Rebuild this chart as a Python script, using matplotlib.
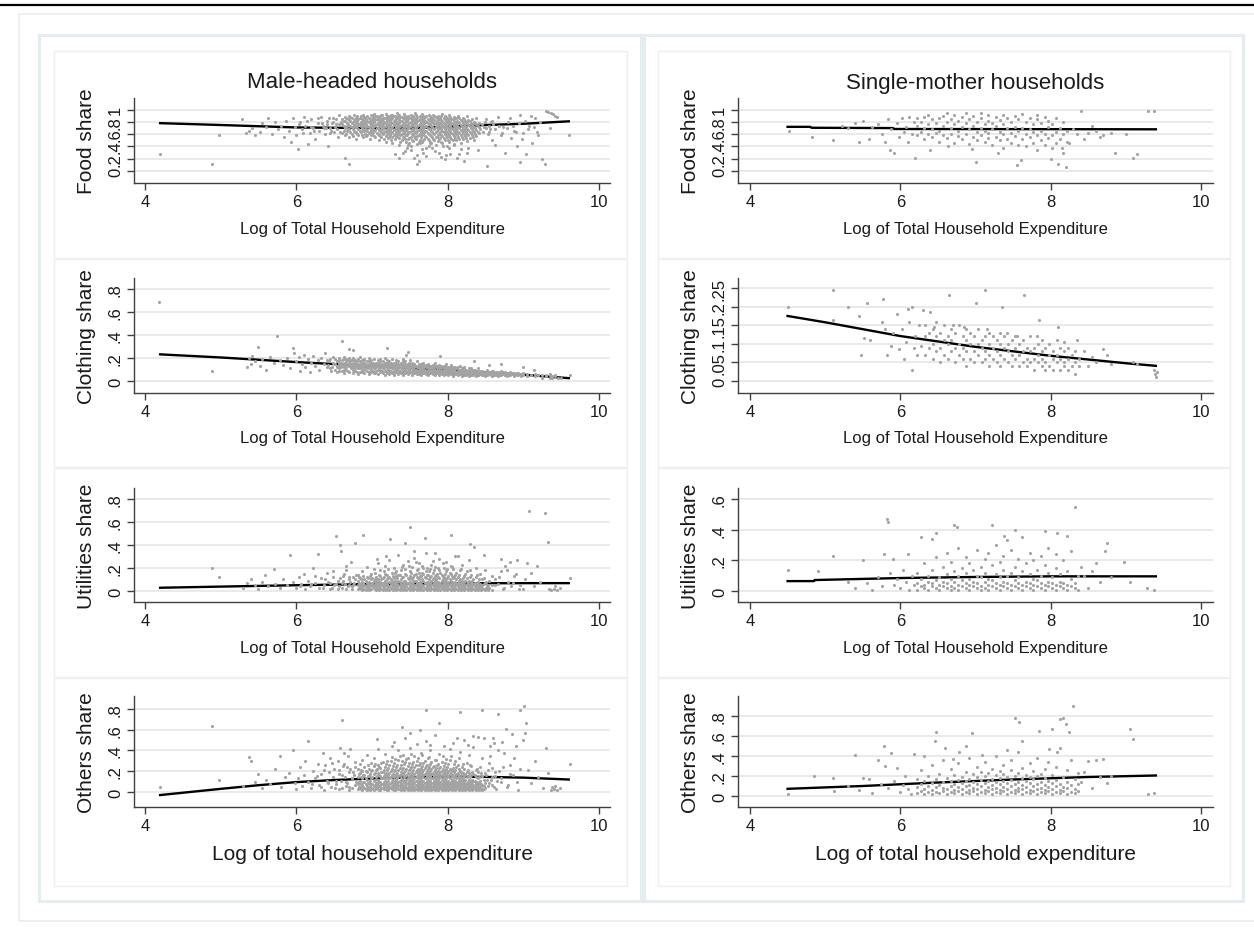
import matplotlib
matplotlib.use("Agg")
import matplotlib.pyplot as plt
from matplotlib.patches import Rectangle

plt.rcParams["font.family"] = ["Liberation Sans", "DejaVu Sans"]

W, H = 1254, 928

# ---------------------------------------------------------------- data
titles = ["Male-headed households", "Single-mother households"]
ylabels = ["Food share", "Clothing share", "Utilities share", "Others share"]
xlabels = ["Log of Total Household Expenditure"] * 3 + ["Log of total household expenditure"]
xticks = [4, 6, 8, 10]

# male-headed households, scattered points: (log expenditure, budget share)
food_m = [
    (4.20, 0.28), (4.88, 0.12), (4.98, 0.58), (5.28, 0.84), (5.33, 0.62), (5.38, 0.66), (5.42, 0.70),
    (5.46, 0.58), (5.52, 0.64), (5.55, 0.78), (5.60, 0.72), (5.63, 0.86), (5.68, 0.60), (5.72, 0.80),
    (5.76, 0.68), (5.80, 0.74), (5.84, 0.56), (5.86, 0.82), (5.90, 0.66), (5.93, 0.48), (5.95, 0.86),
    (5.98, 0.72), (6.00, 0.58), (6.02, 0.36), (6.05, 0.80), (6.07, 0.68), (6.10, 0.88), (6.12, 0.74),
    (6.15, 0.44), (6.18, 0.62), (6.20, 0.84), (6.22, 0.70), (6.25, 0.52), (6.28, 0.78), (6.30, 0.66),
    (6.33, 0.88), (6.35, 0.74), (6.38, 0.60), (6.40, 0.82), (6.42, 0.40), (6.45, 0.70), (6.48, 0.86),
    (6.50, 0.64), (6.52, 0.76), (6.55, 0.56), (6.64, 0.22), (6.70, 0.12), (7.41, 0.30), (7.48, 0.42),
    (7.59, 0.26), (7.66, 0.36), (7.76, 0.46), (7.83, 0.32), (7.94, 0.40), (8.03, 0.28), (8.18, 0.36),
    (8.40, 0.34), (8.50, 0.84), (8.52, 0.08), (8.55, 0.64), (8.58, 0.50), (8.60, 0.76), (8.63, 0.42),
    (8.66, 0.88), (8.70, 0.58), (8.73, 0.72), (8.76, 0.30), (8.80, 0.80), (8.84, 0.54), (8.88, 0.66),
    (8.92, 0.40), (8.96, 0.92), (9.00, 0.62), (9.04, 0.28), (9.08, 0.74), (9.12, 0.46), (9.16, 0.86),
    (9.20, 0.58), (9.24, 0.20), (9.30, 0.98), (9.33, 0.97), (9.36, 0.95), (9.39, 0.93), (9.42, 0.90),
    (9.45, 0.88), (9.60, 0.58), (9.28, 0.12), (7.60, 0.12), (8.95, 0.14), (9.35, 0.70), (7.36, 0.22),
    (7.52, 0.34), (7.72, 0.24), (7.88, 0.30), (8.02, 0.38), (8.12, 0.22), (7.46, 0.38), (7.64, 0.46),
    (7.98, 0.26), (8.26, 0.30), (7.31, 0.27), (7.43, 0.33), (7.55, 0.21), (7.67, 0.29), (7.79, 0.37),
    (7.91, 0.23), (8.15, 0.27), (8.27, 0.38), (7.49, 0.45), (7.75, 0.41), (8.09, 0.42), (7.62, 0.17),
    (7.97, 0.19), (8.21, 0.16), (8.48, 0.72), (8.53, 0.60), (8.57, 0.80), (8.62, 0.68), (8.68, 0.74),
    (8.72, 0.62), (8.78, 0.70), (8.82, 0.86), (8.86, 0.74), (8.90, 0.64), (8.94, 0.78), (8.98, 0.52),
    (9.02, 0.82), (9.06, 0.68), (9.10, 0.90), (9.14, 0.72), (9.18, 0.64), (9.22, 0.80), (6.03, 0.76),
    (6.09, 0.62), (6.14, 0.82), (6.19, 0.72), (6.24, 0.66), (6.29, 0.86), (6.34, 0.78), (6.39, 0.70),
    (6.44, 0.62), (6.49, 0.80), (6.54, 0.68), (6.57, 0.92), (6.36, 0.70), (6.41, 0.76), (6.46, 0.66),
    (6.51, 0.72), (6.53, 0.84), (6.56, 0.76), (6.58, 0.64), (6.59, 0.80), (6.47, 0.78), (6.43, 0.86),
    (8.43, 0.68), (8.45, 0.76), (8.47, 0.64), (8.49, 0.80), (8.51, 0.70), (8.54, 0.74), (8.56, 0.68),
    (8.59, 0.82),
]
# dense middle of each cloud: x position -> the y values stacked there
food_m_core = {
    6.61: [0.62, 0.77, 0.85], 6.64: [0.58, 0.70, 0.81, 0.88], 6.67: [0.65, 0.74, 0.79],
    6.70: [0.55, 0.69, 0.83, 0.90], 6.73: [0.61, 0.72, 0.78, 0.86], 6.76: [0.66, 0.75, 0.82, 0.91],
    6.79: [0.52, 0.63, 0.71, 0.79, 0.87], 6.82: [0.59, 0.68, 0.76, 0.84], 6.85: [0.64, 0.73, 0.80, 0.89],
    6.88: [0.56, 0.67, 0.75, 0.83, 0.92], 6.91: [0.61, 0.71, 0.78, 0.86], 6.94: [0.58, 0.66, 0.74, 0.81, 0.89],
    6.97: [0.53, 0.63, 0.72, 0.79, 0.85], 7.00: [0.60, 0.69, 0.77, 0.83, 0.90],
    7.03: [0.57, 0.65, 0.73, 0.80, 0.87, 0.93], 7.06: [0.62, 0.70, 0.76, 0.84, 0.89],
    7.09: [0.51, 0.59, 0.67, 0.75, 0.82, 0.88], 7.12: [0.55, 0.64, 0.71, 0.79, 0.85, 0.91],
    7.15: [0.60, 0.68, 0.74, 0.81, 0.87], 7.18: [0.48, 0.57, 0.66, 0.73, 0.80, 0.86, 0.93],
    7.21: [0.54, 0.62, 0.70, 0.77, 0.84, 0.90], 7.24: [0.58, 0.67, 0.75, 0.82, 0.88],
    7.27: [0.45, 0.56, 0.64, 0.72, 0.79, 0.86, 0.92], 7.30: [0.52, 0.61, 0.69, 0.76, 0.83, 0.89],
    7.33: [0.57, 0.66, 0.73, 0.80, 0.87, 0.94], 7.36: [0.43, 0.54, 0.63, 0.71, 0.78, 0.85, 0.91],
    7.39: [0.50, 0.60, 0.68, 0.75, 0.82, 0.88], 7.42: [0.55, 0.64, 0.72, 0.79, 0.86, 0.93],
    7.45: [0.47, 0.58, 0.67, 0.74, 0.81, 0.87], 7.48: [0.52, 0.62, 0.70, 0.77, 0.84, 0.90],
    7.51: [0.40, 0.56, 0.65, 0.73, 0.80, 0.86, 0.92], 7.54: [0.49, 0.60, 0.68, 0.76, 0.83, 0.89],
    7.57: [0.54, 0.63, 0.71, 0.78, 0.85, 0.94], 7.60: [0.44, 0.57, 0.66, 0.74, 0.81, 0.88],
    7.63: [0.51, 0.61, 0.69, 0.77, 0.84, 0.90], 7.66: [0.47, 0.58, 0.67, 0.75, 0.82, 0.87, 0.93],
    7.69: [0.53, 0.63, 0.71, 0.79, 0.86], 7.72: [0.38, 0.56, 0.65, 0.73, 0.80, 0.89],
    7.75: [0.50, 0.60, 0.69, 0.76, 0.83, 0.91], 7.78: [0.45, 0.57, 0.66, 0.74, 0.81, 0.87],
    7.81: [0.52, 0.62, 0.70, 0.78, 0.85, 0.92], 7.84: [0.42, 0.55, 0.64, 0.72, 0.79, 0.88],
    7.87: [0.49, 0.59, 0.68, 0.75, 0.83, 0.90], 7.90: [0.54, 0.63, 0.71, 0.78, 0.86],
    7.93: [0.46, 0.57, 0.66, 0.74, 0.81, 0.93], 7.96: [0.51, 0.61, 0.69, 0.77, 0.84, 0.89],
    7.99: [0.40, 0.55, 0.64, 0.72, 0.80, 0.87], 8.02: [0.48, 0.59, 0.67, 0.75, 0.82, 0.91],
    8.05: [0.53, 0.62, 0.70, 0.78, 0.85], 8.08: [0.44, 0.57, 0.66, 0.73, 0.81, 0.88],
    8.11: [0.50, 0.60, 0.69, 0.77, 0.86], 8.14: [0.55, 0.64, 0.72, 0.80, 0.90],
    8.17: [0.46, 0.58, 0.67, 0.75, 0.83], 8.20: [0.52, 0.62, 0.70, 0.79, 0.87],
    8.23: [0.57, 0.66, 0.74, 0.82], 8.26: [0.49, 0.60, 0.69, 0.78, 0.89], 8.29: [0.54, 0.64, 0.73, 0.81],
    8.32: [0.59, 0.68, 0.77, 0.85], 8.35: [0.50, 0.63, 0.72, 0.80], 8.38: [0.57, 0.67, 0.76, 0.86],
    8.41: [0.62, 0.71, 0.79],
    6.625: [0.66, 0.74, 0.82], 6.655: [0.61, 0.72, 0.86], 6.685: [0.68, 0.77, 0.84],
    6.715: [0.63, 0.74, 0.81, 0.88], 6.745: [0.57, 0.69, 0.80], 6.775: [0.64, 0.72, 0.85],
    6.805: [0.60, 0.74, 0.82, 0.90], 6.835: [0.66, 0.77, 0.87], 6.865: [0.59, 0.70, 0.78, 0.85],
    6.895: [0.65, 0.73, 0.81, 0.88], 6.925: [0.57, 0.68, 0.76, 0.84], 6.955: [0.62, 0.71, 0.80, 0.87],
    6.985: [0.58, 0.67, 0.75, 0.82, 0.91], 7.015: [0.63, 0.72, 0.79, 0.86],
    7.045: [0.55, 0.67, 0.75, 0.83, 0.90], 7.075: [0.61, 0.70, 0.78, 0.85],
    7.105: [0.57, 0.66, 0.74, 0.81, 0.89], 7.135: [0.62, 0.69, 0.77, 0.84, 0.92],
    7.165: [0.53, 0.64, 0.72, 0.79, 0.86], 7.195: [0.60, 0.68, 0.76, 0.83, 0.90],
    7.225: [0.56, 0.65, 0.73, 0.81, 0.87], 7.255: [0.51, 0.62, 0.70, 0.78, 0.85, 0.91],
    7.285: [0.59, 0.67, 0.75, 0.82, 0.89], 7.315: [0.55, 0.64, 0.72, 0.80, 0.86],
    7.345: [0.60, 0.69, 0.77, 0.84, 0.90], 7.375: [0.48, 0.59, 0.67, 0.74, 0.81, 0.88],
    7.405: [0.56, 0.65, 0.73, 0.80, 0.86], 7.435: [0.52, 0.61, 0.69, 0.77, 0.84, 0.90],
    7.465: [0.58, 0.66, 0.74, 0.82, 0.88], 7.495: [0.54, 0.63, 0.71, 0.79, 0.86],
    7.525: [0.50, 0.60, 0.68, 0.76, 0.83, 0.90], 7.555: [0.57, 0.65, 0.73, 0.81, 0.87],
    7.585: [0.52, 0.62, 0.70, 0.78, 0.85, 0.91], 7.615: [0.48, 0.59, 0.67, 0.75, 0.83],
    7.645: [0.55, 0.64, 0.72, 0.80, 0.87], 7.675: [0.51, 0.61, 0.69, 0.77, 0.84, 0.90],
    7.705: [0.57, 0.66, 0.74, 0.82, 0.88], 7.735: [0.53, 0.62, 0.70, 0.78, 0.85],
    7.765: [0.48, 0.59, 0.68, 0.76, 0.83, 0.89], 7.795: [0.55, 0.64, 0.72, 0.80, 0.87],
    7.825: [0.50, 0.60, 0.68, 0.76, 0.83, 0.90], 7.855: [0.56, 0.65, 0.73, 0.81, 0.87],
    7.885: [0.52, 0.61, 0.70, 0.78, 0.85], 7.915: [0.48, 0.59, 0.68, 0.76, 0.83, 0.90],
    7.945: [0.54, 0.63, 0.71, 0.79, 0.86], 7.975: [0.58, 0.66, 0.74, 0.82, 0.88],
    8.005: [0.51, 0.62, 0.70, 0.78, 0.85], 8.035: [0.56, 0.65, 0.73, 0.80, 0.88],
    8.065: [0.50, 0.61, 0.69, 0.77, 0.84], 8.095: [0.54, 0.63, 0.72, 0.80, 0.87],
    8.125: [0.58, 0.66, 0.74, 0.82], 8.155: [0.52, 0.62, 0.70, 0.79, 0.86], 8.185: [0.56, 0.65, 0.73, 0.81],
    8.215: [0.60, 0.68, 0.76, 0.84], 8.245: [0.54, 0.64, 0.72, 0.80], 8.275: [0.58, 0.67, 0.75, 0.83],
    8.305: [0.62, 0.70, 0.78], 8.335: [0.56, 0.66, 0.74], 8.365: [0.60, 0.70, 0.79], 8.395: [0.64, 0.74],
}

cloth_m = [
    (4.18, 0.69), (4.88, 0.09), (5.35, 0.12), (5.38, 0.20), (5.40, 0.15), (5.42, 0.22), (5.45, 0.17),
    (5.50, 0.30), (5.52, 0.13), (5.55, 0.19), (5.60, 0.10), (5.65, 0.21), (5.70, 0.16), (5.75, 0.39),
    (5.78, 0.18), (5.82, 0.14), (5.88, 0.20), (5.92, 0.11), (5.95, 0.29), (5.97, 0.24), (6.00, 0.17),
    (6.03, 0.21), (6.05, 0.09), (6.08, 0.15), (6.10, 0.23), (6.12, 0.12), (6.15, 0.19), (6.18, 0.08),
    (6.20, 0.16), (6.22, 0.22), (6.25, 0.13), (6.28, 0.18), (6.30, 0.10), (6.33, 0.20), (6.36, 0.15),
    (6.38, 0.24), (6.40, 0.12), (6.43, 0.17), (6.46, 0.09), (6.48, 0.21), (6.60, 0.35), (6.70, 0.28),
    (6.75, 0.27), (7.20, 0.29), (7.48, 0.25), (9.00, 0.12), (9.14, 0.10), (8.70, 0.15), (8.55, 0.14),
    (7.90, 0.22), (7.45, 0.23), (8.35, 0.17), (9.62, 0.05), (9.50, 0.03), (6.42, 0.14), (6.44, 0.19),
    (6.47, 0.12), (6.49, 0.16), (6.45, 0.11), (6.41, 0.18),
]
cloth_m_core = {
    6.51: [0.10, 0.15, 0.19], 6.54: [0.08, 0.13, 0.17], 6.57: [0.11, 0.16, 0.20], 6.60: [0.09, 0.14, 0.18],
    6.63: [0.07, 0.12, 0.16, 0.21], 6.66: [0.10, 0.15, 0.19], 6.69: [0.08, 0.13, 0.17, 0.20],
    6.72: [0.11, 0.15, 0.18], 6.75: [0.07, 0.12, 0.16, 0.20], 6.78: [0.09, 0.14, 0.18],
    6.81: [0.06, 0.11, 0.15, 0.19], 6.84: [0.08, 0.13, 0.17, 0.21], 6.87: [0.10, 0.14, 0.18],
    6.90: [0.07, 0.12, 0.16, 0.19], 6.93: [0.09, 0.13, 0.17], 6.96: [0.06, 0.11, 0.15, 0.20],
    6.99: [0.08, 0.12, 0.16, 0.18], 7.02: [0.07, 0.11, 0.14, 0.19], 7.05: [0.09, 0.13, 0.16],
    7.08: [0.06, 0.10, 0.14, 0.18], 7.11: [0.08, 0.12, 0.15, 0.19], 7.14: [0.07, 0.11, 0.14, 0.17],
    7.17: [0.05, 0.09, 0.13, 0.16, 0.20], 7.20: [0.08, 0.12, 0.15, 0.18], 7.23: [0.06, 0.10, 0.13, 0.17],
    7.26: [0.07, 0.11, 0.14, 0.19], 7.29: [0.05, 0.09, 0.12, 0.16], 7.32: [0.08, 0.11, 0.15, 0.18],
    7.35: [0.06, 0.10, 0.13, 0.17], 7.38: [0.07, 0.11, 0.14, 0.16], 7.41: [0.05, 0.09, 0.12, 0.15, 0.19],
    7.44: [0.07, 0.10, 0.13, 0.17], 7.47: [0.06, 0.09, 0.12, 0.15], 7.50: [0.08, 0.11, 0.14, 0.18],
    7.53: [0.05, 0.09, 0.12, 0.16], 7.56: [0.07, 0.10, 0.13, 0.15], 7.59: [0.06, 0.09, 0.12, 0.17],
    7.62: [0.08, 0.11, 0.14], 7.65: [0.05, 0.08, 0.11, 0.15], 7.68: [0.07, 0.10, 0.13, 0.16],
    7.71: [0.06, 0.09, 0.12, 0.14], 7.74: [0.05, 0.08, 0.11, 0.15], 7.77: [0.07, 0.10, 0.13],
    7.80: [0.06, 0.09, 0.11, 0.14], 7.83: [0.05, 0.08, 0.10, 0.13, 0.16], 7.86: [0.07, 0.09, 0.12],
    7.89: [0.05, 0.08, 0.11, 0.14], 7.92: [0.06, 0.09, 0.12], 7.95: [0.05, 0.07, 0.10, 0.13],
    7.98: [0.06, 0.08, 0.11, 0.15], 8.01: [0.05, 0.07, 0.10, 0.12], 8.04: [0.06, 0.09, 0.11, 0.14],
    8.07: [0.04, 0.07, 0.10, 0.12], 8.10: [0.06, 0.08, 0.11], 8.13: [0.05, 0.07, 0.09, 0.12],
    8.16: [0.06, 0.08, 0.10, 0.13], 8.19: [0.04, 0.07, 0.09, 0.11], 8.22: [0.05, 0.08, 0.10, 0.12],
    8.25: [0.06, 0.07, 0.09], 8.28: [0.04, 0.06, 0.09, 0.11], 8.31: [0.05, 0.07, 0.10],
    8.34: [0.06, 0.08, 0.10], 8.37: [0.04, 0.07, 0.09], 8.40: [0.05, 0.07, 0.09, 0.11],
    8.43: [0.06, 0.08], 8.46: [0.05, 0.07, 0.09], 8.49: [0.04, 0.06, 0.08], 8.52: [0.05, 0.07, 0.10],
    8.55: [0.06, 0.08], 8.58: [0.04, 0.06, 0.09], 8.61: [0.05, 0.07], 8.64: [0.06, 0.08],
    8.67: [0.04, 0.07], 8.70: [0.05, 0.06, 0.09], 8.73: [0.06, 0.08], 8.76: [0.05, 0.07],
    8.79: [0.04, 0.06], 8.82: [0.05, 0.08], 8.85: [0.06, 0.07], 8.88: [0.04, 0.06], 8.91: [0.05, 0.07],
    8.94: [0.06], 8.97: [0.04, 0.06], 9.00: [0.05, 0.07], 9.05: [0.04, 0.06], 9.10: [0.05],
    9.15: [0.04, 0.06], 9.20: [0.05], 9.25: [0.03, 0.05], 9.30: [0.04, 0.05], 9.35: [0.03, 0.05, 0.06],
    9.38: [0.03, 0.04], 9.42: [0.04, 0.05], 9.46: [0.03],
    6.535: [0.12, 0.17], 6.565: [0.09, 0.14, 0.18], 6.595: [0.12, 0.16], 6.625: [0.10, 0.14, 0.19],
    6.655: [0.12, 0.17], 6.685: [0.09, 0.15, 0.18], 6.715: [0.13, 0.16], 6.745: [0.10, 0.14, 0.18],
    6.775: [0.11, 0.16], 6.805: [0.08, 0.13, 0.17], 6.835: [0.11, 0.15], 6.865: [0.08, 0.12, 0.16],
    6.895: [0.10, 0.14, 0.18], 6.925: [0.11, 0.15], 6.955: [0.08, 0.13, 0.17], 6.985: [0.10, 0.14],
    7.015: [0.09, 0.12, 0.16], 7.045: [0.07, 0.11, 0.15], 7.075: [0.12, 0.16], 7.105: [0.10, 0.13, 0.17],
    7.135: [0.09, 0.12, 0.15], 7.165: [0.11, 0.14], 7.195: [0.07, 0.10, 0.13, 0.16],
    7.225: [0.08, 0.12, 0.15], 7.255: [0.09, 0.13, 0.16], 7.285: [0.07, 0.11, 0.14],
    7.315: [0.10, 0.13, 0.16], 7.345: [0.08, 0.12, 0.15], 7.375: [0.09, 0.12, 0.14],
    7.405: [0.07, 0.10, 0.13, 0.17], 7.435: [0.09, 0.12, 0.15], 7.465: [0.08, 0.11, 0.14],
    7.495: [0.07, 0.10, 0.13, 0.16], 7.525: [0.08, 0.11, 0.14], 7.555: [0.09, 0.12, 0.15],
    7.585: [0.07, 0.10, 0.13], 7.615: [0.06, 0.09, 0.12, 0.15], 7.645: [0.07, 0.10, 0.13],
    7.675: [0.08, 0.11, 0.14], 7.705: [0.07, 0.10, 0.13], 7.735: [0.06, 0.09, 0.12, 0.14],
    7.765: [0.08, 0.11, 0.13], 7.795: [0.07, 0.10, 0.12], 7.825: [0.06, 0.09, 0.12],
    7.855: [0.08, 0.10, 0.13], 7.885: [0.06, 0.09, 0.12], 7.915: [0.07, 0.10, 0.13],
    7.945: [0.06, 0.08, 0.11], 7.975: [0.07, 0.10, 0.12], 8.005: [0.06, 0.08, 0.11],
    8.035: [0.07, 0.10, 0.12], 8.065: [0.05, 0.08, 0.11], 8.095: [0.07, 0.09, 0.12],
    8.125: [0.06, 0.08, 0.11], 8.155: [0.07, 0.09], 8.185: [0.05, 0.08, 0.10], 8.215: [0.06, 0.09, 0.11],
    8.245: [0.05, 0.08, 0.10], 8.275: [0.07, 0.09], 8.305: [0.06, 0.08, 0.11], 8.335: [0.05, 0.07, 0.09],
    8.365: [0.06, 0.08, 0.10], 8.395: [0.05, 0.08], 8.425: [0.06, 0.07, 0.09], 8.455: [0.05, 0.08],
    8.485: [0.06, 0.07], 8.515: [0.05, 0.08], 8.545: [0.06, 0.07], 8.575: [0.05, 0.08],
    8.605: [0.06, 0.09], 8.635: [0.05, 0.07], 8.665: [0.06, 0.08], 8.695: [0.05, 0.07], 8.725: [0.06],
    8.755: [0.05, 0.08], 8.785: [0.06, 0.07], 8.815: [0.05, 0.06], 8.845: [0.07], 8.875: [0.05, 0.07],
    8.905: [0.06], 8.935: [0.05, 0.07], 8.965: [0.06], 8.995: [0.05],
}

util_m = [
    (4.88, 0.20), (4.98, 0.12), (5.30, 0.03), (5.35, 0.07), (5.40, 0.10), (5.45, 0.05), (5.50, 0.02),
    (5.55, 0.08), (5.58, 0.14), (5.62, 0.04), (5.70, 0.19), (5.72, 0.06), (5.78, 0.03), (5.82, 0.10),
    (5.88, 0.05), (5.92, 0.31), (5.95, 0.08), (6.00, 0.03), (6.03, 0.12), (6.06, 0.06), (6.10, 0.15),
    (6.12, 0.02), (6.15, 0.09), (6.18, 0.04), (6.22, 0.20), (6.25, 0.07), (6.28, 0.32), (6.30, 0.03),
    (6.33, 0.11), (6.36, 0.05), (6.40, 0.16), (6.42, 0.08), (6.45, 0.02), (6.48, 0.12), (6.50, 0.05),
    (6.53, 0.48), (6.55, 0.09), (6.58, 0.40), (6.59, 0.35), (6.60, 0.03), (6.62, 0.13), (6.64, 0.06),
    (6.66, 0.18), (6.68, 0.04), (6.70, 0.10), (6.72, 0.25), (6.74, 0.02), (6.76, 0.07), (6.78, 0.42),
    (6.79, 0.14), (6.88, 0.49), (7.06, 0.28), (7.18, 0.30), (7.24, 0.45), (7.43, 0.42), (7.50, 0.56),
    (7.55, 0.35), (7.70, 0.46), (7.83, 0.33), (8.05, 0.49), (8.14, 0.30), (8.30, 0.41), (8.35, 0.38),
    (8.48, 0.31), (8.63, 0.10), (8.66, 0.06), (8.70, 0.17), (8.73, 0.02), (8.76, 0.22), (8.80, 0.08),
    (8.84, 0.04), (8.88, 0.13), (8.92, 0.27), (8.96, 0.05), (9.00, 0.02), (9.05, 0.24), (9.08, 0.70),
    (9.10, 0.16), (9.14, 0.04), (9.18, 0.22), (9.22, 0.08), (9.28, 0.68), (9.32, 0.43), (9.34, 0.02),
    (9.37, 0.01), (9.40, 0.02), (9.42, 0.04), (9.45, 0.01), (9.48, 0.03), (9.62, 0.11), (6.05, 0.04),
    (6.20, 0.06), (6.35, 0.03), (6.45, 0.07), (6.55, 0.02), (6.62, 0.09), (6.70, 0.05), (6.75, 0.12),
    (6.48, 0.17), (6.65, 0.22), (6.38, 0.10), (6.25, 0.13), (8.62, 0.05), (8.68, 0.12), (8.74, 0.03),
    (8.78, 0.18), (8.86, 0.07), (8.94, 0.02), (9.02, 0.10), (8.82, 0.25), (8.90, 0.15), (8.70, 0.28),
    (6.56, 0.04), (6.61, 0.07), (6.66, 0.02), (6.71, 0.08), (6.73, 0.04), (6.77, 0.10), (6.63, 0.15),
    (6.69, 0.12), (6.52, 0.06), (6.47, 0.03), (6.58, 0.11), (6.75, 0.05),
]
util_m_core = {
    6.81: [0.02, 0.05, 0.09, 0.14], 6.84: [0.03, 0.06, 0.11], 6.87: [0.01, 0.04, 0.08, 0.17],
    6.90: [0.02, 0.05, 0.10], 6.93: [0.03, 0.07, 0.12, 0.21], 6.96: [0.01, 0.04, 0.08],
    6.99: [0.02, 0.06, 0.10, 0.15], 7.02: [0.03, 0.05, 0.09, 0.19], 7.05: [0.01, 0.04, 0.07, 0.12],
    7.08: [0.02, 0.06, 0.10, 0.24], 7.11: [0.03, 0.05, 0.08, 0.13, 0.18], 7.14: [0.01, 0.04, 0.07, 0.11],
    7.17: [0.02, 0.05, 0.09, 0.15, 0.22], 7.20: [0.03, 0.06, 0.10, 0.14], 7.23: [0.01, 0.04, 0.08, 0.12, 0.27],
    7.26: [0.02, 0.05, 0.09, 0.16], 7.29: [0.03, 0.06, 0.11, 0.20], 7.32: [0.01, 0.04, 0.07, 0.13, 0.17],
    7.35: [0.02, 0.05, 0.09, 0.14, 0.31], 7.38: [0.03, 0.06, 0.10, 0.18], 7.41: [0.01, 0.04, 0.08, 0.12, 0.23],
    7.44: [0.02, 0.05, 0.09, 0.15, 0.19], 7.47: [0.03, 0.07, 0.11, 0.26], 7.50: [0.01, 0.04, 0.08, 0.13, 0.17],
    7.53: [0.02, 0.06, 0.10, 0.21], 7.56: [0.03, 0.05, 0.09, 0.14, 0.29], 7.59: [0.01, 0.04, 0.07, 0.12, 0.18],
    7.62: [0.02, 0.06, 0.10, 0.16, 0.24], 7.65: [0.03, 0.05, 0.08, 0.13], 7.68: [0.01, 0.04, 0.09, 0.15, 0.20],
    7.71: [0.02, 0.06, 0.11, 0.17, 0.33], 7.74: [0.03, 0.05, 0.08, 0.14], 7.77: [0.01, 0.04, 0.07, 0.12, 0.19],
    7.80: [0.02, 0.06, 0.10, 0.16, 0.26], 7.83: [0.03, 0.05, 0.09, 0.13, 0.21], 7.86: [0.01, 0.04, 0.08, 0.15],
    7.89: [0.02, 0.06, 0.11, 0.18, 0.28], 7.92: [0.03, 0.05, 0.09, 0.14], 7.95: [0.01, 0.04, 0.07, 0.12, 0.20],
    7.98: [0.02, 0.06, 0.10, 0.17, 0.25], 8.01: [0.03, 0.05, 0.08, 0.13], 8.04: [0.01, 0.04, 0.09, 0.15, 0.22],
    8.07: [0.02, 0.06, 0.11, 0.19], 8.10: [0.03, 0.05, 0.08, 0.14, 0.30], 8.13: [0.01, 0.04, 0.07, 0.12],
    8.16: [0.02, 0.06, 0.10, 0.18], 8.19: [0.03, 0.05, 0.09, 0.23], 8.22: [0.01, 0.04, 0.08, 0.13],
    8.25: [0.02, 0.06, 0.11, 0.17], 8.28: [0.03, 0.05, 0.09, 0.27], 8.31: [0.01, 0.04, 0.07, 0.14],
    8.34: [0.02, 0.06, 0.10], 8.37: [0.03, 0.05, 0.12, 0.20], 8.40: [0.01, 0.04, 0.08],
    8.43: [0.02, 0.06, 0.15], 8.46: [0.03, 0.05, 0.10], 8.49: [0.01, 0.07, 0.18], 8.52: [0.02, 0.04],
    8.55: [0.03, 0.09], 8.58: [0.01, 0.05, 0.13],
    6.825: [0.04, 0.07, 0.12], 6.855: [0.02, 0.06, 0.10], 6.885: [0.03, 0.07, 0.13], 6.915: [0.01, 0.04, 0.09],
    6.945: [0.03, 0.06, 0.11], 6.975: [0.02, 0.05, 0.13], 7.005: [0.04, 0.07, 0.11],
    7.035: [0.02, 0.06, 0.10, 0.16], 7.065: [0.03, 0.05, 0.09], 7.095: [0.01, 0.04, 0.08, 0.14],
    7.125: [0.02, 0.06, 0.10], 7.155: [0.03, 0.07, 0.12, 0.17], 7.185: [0.01, 0.05, 0.08],
    7.215: [0.02, 0.04, 0.11, 0.19], 7.245: [0.03, 0.06, 0.10], 7.275: [0.01, 0.04, 0.07, 0.13],
    7.305: [0.02, 0.05, 0.09, 0.16], 7.335: [0.03, 0.06, 0.11], 7.365: [0.01, 0.04, 0.08, 0.14],
    7.395: [0.02, 0.05, 0.12, 0.21], 7.425: [0.03, 0.06, 0.09], 7.455: [0.01, 0.04, 0.07, 0.14],
    7.485: [0.02, 0.06, 0.10, 0.22], 7.515: [0.03, 0.07, 0.11, 0.16], 7.545: [0.01, 0.04, 0.08, 0.12],
    7.575: [0.02, 0.05, 0.09, 0.15, 0.25], 7.605: [0.03, 0.06, 0.11, 0.19], 7.635: [0.01, 0.04, 0.08, 0.13],
    7.665: [0.02, 0.05, 0.10, 0.16, 0.22], 7.695: [0.03, 0.07, 0.12], 7.725: [0.01, 0.04, 0.08, 0.14, 0.20],
    7.755: [0.02, 0.06, 0.10, 0.17], 7.785: [0.03, 0.05, 0.09, 0.13, 0.23], 7.815: [0.01, 0.04, 0.07, 0.11, 0.18],
    7.845: [0.02, 0.06, 0.10, 0.14], 7.875: [0.03, 0.05, 0.08, 0.12, 0.20], 7.905: [0.01, 0.04, 0.07, 0.16],
    7.935: [0.02, 0.06, 0.10, 0.13, 0.24], 7.965: [0.03, 0.05, 0.09, 0.15], 7.995: [0.01, 0.04, 0.07, 0.11, 0.19],
    8.025: [0.02, 0.06, 0.10, 0.16], 8.055: [0.03, 0.05, 0.08, 0.13, 0.21], 8.085: [0.01, 0.04, 0.07, 0.12],
    8.115: [0.02, 0.06, 0.10, 0.16], 8.145: [0.03, 0.05, 0.09, 0.14], 8.175: [0.01, 0.04, 0.07, 0.19],
    8.205: [0.02, 0.06, 0.11], 8.235: [0.03, 0.05, 0.09, 0.15], 8.265: [0.01, 0.04, 0.08],
    8.295: [0.02, 0.06, 0.12, 0.18], 8.325: [0.03, 0.05, 0.09], 8.355: [0.01, 0.04, 0.07],
    8.385: [0.02, 0.06, 0.14], 8.415: [0.03, 0.05, 0.10], 8.445: [0.01, 0.04], 8.475: [0.02, 0.06, 0.11],
    8.505: [0.03, 0.08], 8.535: [0.01, 0.05],
}

oth_m = [
    (4.20, 0.05), (4.88, 0.64), (4.98, 0.12), (5.30, 0.06), (5.38, 0.34), (5.40, 0.30), (5.45, 0.10),
    (5.50, 0.17), (5.55, 0.04), (5.60, 0.12), (5.65, 0.08), (5.72, 0.22), (5.78, 0.35), (5.80, 0.05),
    (5.85, 0.14), (5.90, 0.18), (5.95, 0.40), (5.98, 0.09), (6.00, 0.03), (6.02, 0.13), (6.05, 0.24),
    (6.08, 0.06), (6.10, 0.16), (6.12, 0.30), (6.15, 0.49), (6.16, 0.10), (6.20, 0.04), (6.22, 0.20),
    (6.25, 0.13), (6.28, 0.27), (6.30, 0.07), (6.33, 0.17), (6.36, 0.02), (6.38, 0.26), (6.40, 0.11),
    (6.43, 0.19), (6.46, 0.05), (6.48, 0.14), (6.50, 0.22), (6.52, 0.08), (6.55, 0.30), (6.57, 0.03),
    (6.60, 0.69), (6.61, 0.16), (6.63, 0.38), (6.65, 0.10), (6.67, 0.24), (6.69, 0.05), (6.71, 0.41),
    (6.73, 0.13), (6.75, 0.19), (6.77, 0.07), (7.07, 0.51), (7.26, 0.44), (7.39, 0.63), (7.50, 0.57),
    (7.63, 0.60), (7.72, 0.79), (7.77, 0.45), (7.88, 0.66), (8.03, 0.41), (8.12, 0.52), (8.16, 0.77),
    (8.27, 0.45), (8.33, 0.54), (8.45, 0.79), (8.48, 0.52), (8.53, 0.06), (8.56, 0.35), (8.58, 0.14),
    (8.61, 0.47), (8.64, 0.03), (8.66, 0.75), (8.68, 0.20), (8.71, 0.10), (8.74, 0.38), (8.77, 0.61),
    (8.80, 0.07), (8.83, 0.26), (8.86, 0.16), (8.90, 0.44), (8.93, 0.02), (8.96, 0.79), (8.99, 0.50),
    (9.01, 0.83), (9.02, 0.57), (9.04, 0.66), (9.06, 0.21), (9.10, 0.09), (9.15, 0.30), (9.20, 0.14),
    (9.26, 0.04), (9.30, 0.42), (9.33, 0.18), (9.36, 0.02), (9.38, 0.05), (9.40, 0.03), (9.42, 0.06),
    (9.45, 0.02), (9.48, 0.04), (9.62, 0.27), (6.21, 0.08), (6.27, 0.15), (6.32, 0.05), (6.37, 0.21),
    (6.42, 0.09), (6.47, 0.28), (6.51, 0.04), (6.56, 0.17), (6.59, 0.11), (6.62, 0.25), (6.66, 0.06),
    (6.70, 0.19), (6.74, 0.13), (6.78, 0.29), (6.68, 0.35), (6.58, 0.42), (6.44, 0.33), (6.35, 0.38),
    (8.52, 0.12), (8.55, 0.28), (8.59, 0.07), (8.63, 0.19), (8.67, 0.40), (8.70, 0.13), (8.73, 0.24),
    (8.78, 0.05), (8.82, 0.17), (8.87, 0.33), (8.91, 0.10), (8.95, 0.22), (8.60, 0.52), (8.72, 0.48),
    (8.85, 0.56), (8.56, 0.44), (6.52, 0.11), (6.57, 0.21), (6.61, 0.04), (6.64, 0.14), (6.67, 0.09),
    (6.71, 0.22), (6.73, 0.04), (6.76, 0.16), (6.79, 0.10), (6.63, 0.27), (6.69, 0.02), (6.77, 0.24),
    (8.51, 0.16), (8.53, 0.21), (8.54, 0.09), (8.57, 0.12), (8.58, 0.23), (8.61, 0.05), (8.62, 0.15),
    (8.65, 0.11),
]
oth_m_core = {
    6.81: [0.03, 0.08, 0.14, 0.22], 6.84: [0.05, 0.11, 0.18, 0.27], 6.87: [0.02, 0.07, 0.13, 0.20, 0.31],
    6.90: [0.04, 0.10, 0.16, 0.24], 6.93: [0.02, 0.06, 0.12, 0.19, 0.36], 6.96: [0.05, 0.09, 0.15, 0.22],
    6.99: [0.03, 0.08, 0.13, 0.20, 0.28], 7.02: [0.02, 0.06, 0.11, 0.17, 0.25, 0.33],
    7.05: [0.04, 0.09, 0.14, 0.21], 7.08: [0.03, 0.07, 0.12, 0.18, 0.26, 0.41],
    7.11: [0.02, 0.06, 0.10, 0.15, 0.23], 7.14: [0.04, 0.08, 0.13, 0.19, 0.29],
    7.17: [0.03, 0.07, 0.11, 0.17, 0.24, 0.37], 7.20: [0.02, 0.05, 0.10, 0.15, 0.21, 0.30],
    7.23: [0.04, 0.08, 0.13, 0.18, 0.26], 7.26: [0.03, 0.06, 0.11, 0.16, 0.22, 0.34],
    7.29: [0.02, 0.05, 0.09, 0.14, 0.20, 0.28, 0.48], 7.32: [0.04, 0.08, 0.12, 0.17, 0.24],
    7.35: [0.03, 0.06, 0.10, 0.15, 0.21, 0.31, 0.40], 7.38: [0.02, 0.05, 0.09, 0.13, 0.19, 0.26],
    7.41: [0.04, 0.07, 0.12, 0.17, 0.23, 0.36], 7.44: [0.03, 0.06, 0.10, 0.15, 0.20, 0.29, 0.52],
    7.47: [0.02, 0.05, 0.09, 0.13, 0.18, 0.25, 0.33], 7.50: [0.04, 0.08, 0.12, 0.16, 0.22, 0.42],
    7.53: [0.03, 0.06, 0.10, 0.14, 0.19, 0.27], 7.56: [0.02, 0.05, 0.09, 0.13, 0.17, 0.24, 0.35],
    7.59: [0.04, 0.07, 0.11, 0.15, 0.21, 0.30, 0.46], 7.62: [0.03, 0.06, 0.10, 0.14, 0.19, 0.26],
    7.65: [0.02, 0.05, 0.08, 0.12, 0.17, 0.23, 0.38], 7.68: [0.04, 0.07, 0.11, 0.16, 0.21, 0.28],
    7.71: [0.03, 0.06, 0.09, 0.13, 0.18, 0.25, 0.49], 7.74: [0.02, 0.05, 0.08, 0.12, 0.16, 0.22, 0.33],
    7.77: [0.04, 0.07, 0.11, 0.15, 0.20, 0.27, 0.40], 7.80: [0.03, 0.06, 0.09, 0.13, 0.18, 0.24],
    7.83: [0.02, 0.05, 0.08, 0.12, 0.16, 0.21, 0.31, 0.55], 7.86: [0.04, 0.07, 0.10, 0.14, 0.19, 0.26],
    7.89: [0.03, 0.06, 0.09, 0.13, 0.17, 0.23, 0.37], 7.92: [0.02, 0.05, 0.08, 0.12, 0.16, 0.20, 0.29],
    7.95: [0.04, 0.07, 0.10, 0.14, 0.18, 0.25, 0.44], 7.98: [0.03, 0.06, 0.09, 0.13, 0.17, 0.22, 0.32],
    8.01: [0.02, 0.05, 0.08, 0.11, 0.15, 0.20, 0.27], 8.04: [0.04, 0.07, 0.10, 0.14, 0.19, 0.35],
    8.07: [0.03, 0.06, 0.09, 0.12, 0.16, 0.23, 0.47], 8.10: [0.02, 0.05, 0.08, 0.11, 0.15, 0.21, 0.30],
    8.13: [0.04, 0.07, 0.10, 0.14, 0.18, 0.26], 8.16: [0.03, 0.06, 0.09, 0.13, 0.20, 0.39],
    8.19: [0.02, 0.05, 0.08, 0.12, 0.17, 0.24], 8.22: [0.04, 0.07, 0.11, 0.15, 0.22, 0.50],
    8.25: [0.03, 0.06, 0.09, 0.14, 0.19, 0.28], 8.28: [0.02, 0.05, 0.08, 0.12, 0.18, 0.36],
    8.31: [0.04, 0.07, 0.10, 0.16, 0.25], 8.34: [0.03, 0.06, 0.11, 0.17, 0.43],
    8.37: [0.02, 0.05, 0.09, 0.14, 0.21], 8.40: [0.04, 0.08, 0.13, 0.19, 0.53], 8.43: [0.03, 0.06, 0.11, 0.24],
    8.46: [0.02, 0.07, 0.15, 0.33], 8.49: [0.04, 0.09, 0.18],
    6.825: [0.05, 0.10, 0.17], 6.855: [0.03, 0.08, 0.14, 0.21], 6.885: [0.05, 0.10, 0.16],
    6.915: [0.03, 0.08, 0.13, 0.20], 6.945: [0.04, 0.09, 0.15, 0.26], 6.975: [0.02, 0.06, 0.11, 0.17],
    7.005: [0.04, 0.08, 0.14, 0.21], 7.035: [0.03, 0.07, 0.12, 0.18, 0.27], 7.065: [0.05, 0.09, 0.15, 0.22],
    7.095: [0.02, 0.06, 0.10, 0.16, 0.24], 7.125: [0.04, 0.08, 0.13, 0.19, 0.28],
    7.155: [0.03, 0.06, 0.10, 0.15, 0.21], 7.185: [0.04, 0.08, 0.13, 0.18, 0.27],
    7.215: [0.02, 0.06, 0.11, 0.16, 0.23], 7.245: [0.05, 0.09, 0.14, 0.20, 0.30],
    7.275: [0.03, 0.07, 0.12, 0.17, 0.25], 7.305: [0.02, 0.06, 0.10, 0.15, 0.21, 0.32],
    7.335: [0.04, 0.08, 0.13, 0.18, 0.26], 7.365: [0.03, 0.07, 0.11, 0.16, 0.23, 0.35],
    7.395: [0.04, 0.08, 0.12, 0.17, 0.22, 0.30], 7.425: [0.02, 0.05, 0.10, 0.14, 0.19, 0.27],
    7.455: [0.04, 0.08, 0.12, 0.16, 0.22, 0.32], 7.485: [0.03, 0.07, 0.11, 0.15, 0.21, 0.28],
    7.515: [0.02, 0.05, 0.09, 0.13, 0.18, 0.24, 0.37], 7.545: [0.04, 0.08, 0.12, 0.16, 0.21, 0.29],
    7.575: [0.03, 0.07, 0.11, 0.14, 0.19, 0.26], 7.605: [0.02, 0.05, 0.09, 0.13, 0.17, 0.22, 0.33],
    7.635: [0.04, 0.08, 0.12, 0.16, 0.21, 0.28], 7.665: [0.03, 0.07, 0.10, 0.14, 0.19, 0.25, 0.36],
    7.695: [0.02, 0.05, 0.09, 0.13, 0.17, 0.23, 0.30], 7.725: [0.04, 0.08, 0.11, 0.15, 0.20, 0.26],
    7.755: [0.03, 0.06, 0.10, 0.14, 0.18, 0.24, 0.34], 7.785: [0.02, 0.05, 0.09, 0.13, 0.17, 0.22, 0.29],
    7.815: [0.04, 0.07, 0.11, 0.15, 0.19, 0.25], 7.845: [0.03, 0.06, 0.10, 0.13, 0.17, 0.23, 0.31],
    7.875: [0.02, 0.05, 0.08, 0.12, 0.16, 0.20, 0.27], 7.905: [0.04, 0.07, 0.10, 0.14, 0.19, 0.24],
    7.935: [0.03, 0.06, 0.09, 0.13, 0.17, 0.22, 0.35], 7.965: [0.02, 0.05, 0.08, 0.12, 0.16, 0.20, 0.28],
    7.995: [0.04, 0.07, 0.10, 0.14, 0.18, 0.24], 8.025: [0.03, 0.06, 0.09, 0.13, 0.17, 0.22, 0.31],
    8.055: [0.02, 0.05, 0.08, 0.12, 0.16, 0.21], 8.085: [0.04, 0.07, 0.10, 0.14, 0.19, 0.27],
    8.115: [0.03, 0.06, 0.09, 0.13, 0.17, 0.24], 8.145: [0.02, 0.05, 0.08, 0.12, 0.16, 0.22, 0.33],
    8.175: [0.04, 0.07, 0.10, 0.14, 0.19], 8.205: [0.03, 0.06, 0.09, 0.13, 0.18, 0.27],
    8.235: [0.02, 0.05, 0.08, 0.12, 0.17], 8.265: [0.04, 0.07, 0.10, 0.15, 0.21],
    8.295: [0.03, 0.06, 0.09, 0.14, 0.26], 8.325: [0.02, 0.05, 0.08, 0.12, 0.19],
    8.355: [0.04, 0.07, 0.11, 0.16], 8.385: [0.03, 0.06, 0.10, 0.22], 8.415: [0.02, 0.05, 0.09, 0.14],
    8.445: [0.04, 0.08, 0.18], 8.475: [0.03, 0.06, 0.12],
}

# single-mother households
food_f = [
    (4.52, 0.66), (4.82, 0.55), (5.10, 0.50), (5.22, 0.74), (5.30, 0.70), (5.40, 0.78), (5.45, 0.47),
    (5.50, 0.82), (5.58, 0.52), (5.62, 0.72), (5.70, 0.76), (5.76, 0.60), (5.80, 0.47), (5.84, 0.84),
    (5.86, 0.34), (5.88, 0.68), (5.92, 0.30), (5.95, 0.78), (5.98, 0.55), (6.02, 0.86), (6.05, 0.64),
    (6.08, 0.72), (6.10, 0.48), (6.12, 0.88), (6.15, 0.60), (6.18, 0.80), (6.20, 0.22), (6.40, 0.34),
    (6.63, 0.40), (6.96, 0.36), (7.00, 0.14), (7.30, 0.30), (7.55, 0.10), (7.60, 0.18), (8.00, 0.20),
    (8.10, 0.12), (8.15, 0.38), (8.20, 0.07), (8.25, 0.46), (8.30, 0.68), (8.35, 0.60), (8.40, 0.98),
    (8.45, 0.52), (8.50, 0.62), (8.55, 0.74), (8.60, 0.66), (8.65, 0.56), (8.70, 0.58), (8.80, 0.62),
    (8.85, 0.30), (9.00, 0.60), (9.10, 0.22), (9.15, 0.28), (9.30, 0.98), (9.38, 0.98),
]
food_f_core = {
    6.22: [0.58, 0.74, 0.86], 6.27: [0.64, 0.80], 6.32: [0.52, 0.70, 0.88], 6.37: [0.60, 0.76, 0.92],
    6.42: [0.55, 0.68, 0.84], 6.47: [0.62, 0.78], 6.52: [0.48, 0.66, 0.87], 6.57: [0.58, 0.73, 0.90],
    6.62: [0.54, 0.80, 0.94], 6.67: [0.61, 0.70, 0.84], 6.72: [0.46, 0.76, 0.91], 6.77: [0.57, 0.66, 0.82],
    6.82: [0.52, 0.72, 0.88], 6.87: [0.60, 0.78, 0.94], 6.92: [0.44, 0.69, 0.84], 6.97: [0.56, 0.74, 0.90],
    7.02: [0.50, 0.63, 0.80], 7.07: [0.58, 0.70, 0.86, 0.95], 7.12: [0.47, 0.66, 0.76],
    7.17: [0.54, 0.62, 0.82, 0.92], 7.22: [0.42, 0.68, 0.78], 7.27: [0.56, 0.74, 0.88],
    7.32: [0.50, 0.64, 0.83], 7.37: [0.38, 0.60, 0.76, 0.92], 7.42: [0.53, 0.70, 0.86],
    7.47: [0.46, 0.62, 0.80], 7.52: [0.57, 0.72, 0.90], 7.57: [0.43, 0.66, 0.84], 7.62: [0.52, 0.70, 0.93],
    7.67: [0.40, 0.60, 0.80], 7.72: [0.55, 0.68, 0.87], 7.77: [0.46, 0.64, 0.76],
    7.82: [0.34, 0.58, 0.84, 0.92], 7.87: [0.50, 0.66, 0.78], 7.92: [0.42, 0.60, 0.88],
    7.97: [0.54, 0.72, 0.82], 8.02: [0.38, 0.58, 0.76], 8.07: [0.46, 0.64, 0.86], 8.12: [0.52, 0.70],
    8.17: [0.30, 0.60, 0.80], 8.22: [0.48, 0.66],
}

cloth_f = [
    (4.50, 0.200), (5.10, 0.245), (5.10, 0.165), (5.30, 0.200), (5.45, 0.175), (5.48, 0.070),
    (5.52, 0.115), (5.55, 0.210), (5.60, 0.110), (5.75, 0.160), (5.77, 0.220), (5.80, 0.140),
    (5.82, 0.070), (5.88, 0.095), (5.90, 0.130), (5.95, 0.180), (5.98, 0.085), (6.02, 0.140),
    (6.05, 0.060), (6.08, 0.105), (6.10, 0.195), (6.12, 0.160), (6.15, 0.200), (6.16, 0.030),
    (6.18, 0.090), (6.20, 0.120), (6.22, 0.070), (6.25, 0.150), (6.28, 0.095), (6.30, 0.190),
    (6.40, 0.185), (6.65, 0.230), (7.00, 0.210), (7.12, 0.245), (7.35, 0.200), (7.65, 0.230),
    (7.85, 0.165), (8.10, 0.145), (8.45, 0.080), (8.50, 0.040), (8.55, 0.065), (8.60, 0.050),
    (8.70, 0.085), (8.75, 0.070), (8.80, 0.045), (9.10, 0.050), (9.15, 0.045), (9.38, 0.030),
    (9.39, 0.020), (9.40, 0.010), (9.41, 0.025), (6.45, 0.145), (6.70, 0.150), (6.85, 0.145),
    (7.15, 0.140), (7.42, 0.130), (7.55, 0.120), (7.82, 0.120), (8.18, 0.105), (8.35, 0.110),
]
cloth_f_core = {
    6.33: [0.07, 0.12, 0.15], 6.38: [0.09, 0.13], 6.43: [0.06, 0.10, 0.14], 6.48: [0.08, 0.12, 0.16],
    6.53: [0.05, 0.09, 0.13], 6.58: [0.07, 0.11, 0.15], 6.63: [0.06, 0.10, 0.12], 6.68: [0.08, 0.11, 0.14],
    6.73: [0.05, 0.09, 0.13], 6.78: [0.07, 0.10, 0.15], 6.83: [0.06, 0.09, 0.12], 6.88: [0.04, 0.08, 0.11, 0.14],
    6.93: [0.06, 0.10, 0.13], 6.98: [0.05, 0.08, 0.12], 7.03: [0.07, 0.10, 0.14], 7.08: [0.05, 0.09, 0.11],
    7.13: [0.06, 0.08, 0.12], 7.18: [0.04, 0.07, 0.10, 0.13], 7.23: [0.06, 0.09, 0.12], 7.28: [0.05, 0.08, 0.11],
    7.33: [0.04, 0.07, 0.10, 0.13], 7.38: [0.06, 0.09, 0.12], 7.43: [0.05, 0.08, 0.10], 7.48: [0.04, 0.07, 0.11],
    7.53: [0.06, 0.09, 0.12], 7.58: [0.04, 0.07, 0.10], 7.63: [0.05, 0.08, 0.11], 7.68: [0.04, 0.06, 0.09],
    7.73: [0.05, 0.08, 0.12], 7.78: [0.03, 0.06, 0.09], 7.83: [0.05, 0.07, 0.10], 7.88: [0.04, 0.06, 0.08, 0.11],
    7.93: [0.03, 0.05, 0.09], 7.98: [0.04, 0.07, 0.10], 8.03: [0.03, 0.06, 0.08], 8.08: [0.05, 0.07, 0.11],
    8.13: [0.03, 0.06, 0.09], 8.18: [0.04, 0.05, 0.08], 8.23: [0.03, 0.06, 0.09], 8.28: [0.04, 0.07],
    8.33: [0.02, 0.05, 0.08], 8.38: [0.04, 0.06],
}

util_f = [
    (4.50, 0.14), (4.90, 0.13), (5.10, 0.23), (5.30, 0.06), (5.40, 0.02), (5.50, 0.20), (5.55, 0.05),
    (5.62, 0.01), (5.70, 0.09), (5.75, 0.03), (5.78, 0.24), (5.82, 0.47), (5.84, 0.45), (5.86, 0.12),
    (5.90, 0.21), (5.92, 0.04), (5.96, 0.08), (6.00, 0.02), (6.04, 0.14), (6.08, 0.06), (6.10, 0.24),
    (6.12, 0.01), (6.15, 0.10), (6.18, 0.04), (6.28, 0.35), (6.42, 0.34), (6.48, 0.38), (6.72, 0.43),
    (6.76, 0.42), (7.22, 0.43), (7.38, 0.36), (7.52, 0.40), (7.92, 0.39), (8.08, 0.38), (8.22, 0.36),
    (8.33, 0.55), (8.40, 0.16), (8.45, 0.10), (8.50, 0.02), (8.55, 0.13), (8.60, 0.18), (8.65, 0.06),
    (8.72, 0.26), (8.75, 0.31), (8.80, 0.09), (8.98, 0.19), (9.05, 0.06), (9.28, 0.02), (9.38, 0.01),
]
util_f_core = {
    6.22: [0.01, 0.05, 0.12], 6.27: [0.03, 0.08], 6.32: [0.02, 0.04, 0.18], 6.37: [0.01, 0.06, 0.10],
    6.42: [0.03, 0.05, 0.14], 6.47: [0.02, 0.07, 0.22], 6.52: [0.01, 0.04, 0.09], 6.57: [0.03, 0.06, 0.16],
    6.62: [0.02, 0.05, 0.11, 0.25], 6.67: [0.01, 0.03, 0.08, 0.19], 6.72: [0.02, 0.06, 0.13],
    6.77: [0.01, 0.04, 0.10, 0.28], 6.82: [0.03, 0.07, 0.15], 6.87: [0.02, 0.05, 0.12, 0.22],
    6.92: [0.01, 0.04, 0.08, 0.18], 6.97: [0.03, 0.06, 0.14], 7.02: [0.02, 0.05, 0.10, 0.27],
    7.07: [0.01, 0.03, 0.09, 0.16], 7.12: [0.02, 0.06, 0.12, 0.21], 7.17: [0.01, 0.04, 0.08, 0.25],
    7.22: [0.03, 0.07, 0.17], 7.27: [0.02, 0.05, 0.11, 0.30], 7.32: [0.01, 0.04, 0.09, 0.19],
    7.37: [0.03, 0.06, 0.14, 0.23], 7.42: [0.02, 0.05, 0.10, 0.33], 7.47: [0.01, 0.04, 0.12, 0.27],
    7.52: [0.03, 0.07, 0.16], 7.57: [0.02, 0.05, 0.09, 0.21], 7.62: [0.01, 0.04, 0.13, 0.35],
    7.67: [0.03, 0.06, 0.18], 7.72: [0.02, 0.05, 0.11, 0.25], 7.77: [0.01, 0.04, 0.08, 0.20],
    7.82: [0.03, 0.07, 0.14], 7.87: [0.02, 0.05, 0.10, 0.23], 7.92: [0.01, 0.04, 0.17],
    7.97: [0.03, 0.06, 0.12, 0.28], 8.02: [0.02, 0.05, 0.09], 8.07: [0.01, 0.04, 0.15, 0.24],
    8.12: [0.03, 0.06, 0.11], 8.17: [0.02, 0.05, 0.20], 8.22: [0.01, 0.04, 0.13], 8.27: [0.03, 0.08, 0.26],
    8.32: [0.02, 0.05], 8.37: [0.01, 0.10],
}

oth_f = [
    (4.50, 0.02), (4.85, 0.20), (5.10, 0.18), (5.12, 0.05), (5.30, 0.10), (5.40, 0.41), (5.45, 0.06),
    (5.50, 0.18), (5.58, 0.17), (5.62, 0.03), (5.70, 0.36), (5.74, 0.12), (5.78, 0.50), (5.80, 0.30),
    (5.84, 0.08), (5.88, 0.43), (5.92, 0.15), (5.96, 0.28), (6.00, 0.04), (6.03, 0.11), (6.06, 0.20),
    (6.10, 0.07), (6.14, 0.02), (6.18, 0.42), (6.32, 0.40), (6.46, 0.55), (6.48, 0.64), (6.60, 0.48),
    (6.70, 0.37), (6.78, 0.44), (6.88, 0.50), (6.95, 0.63), (7.08, 0.41), (7.42, 0.46), (7.52, 0.78),
    (7.58, 0.74), (7.62, 0.55), (7.85, 0.65), (7.98, 0.47), (8.02, 0.67), (8.08, 0.44), (8.12, 0.77),
    (8.16, 0.78), (8.20, 0.72), (8.25, 0.64), (8.30, 0.90), (8.40, 0.14), (8.45, 0.24), (8.50, 0.35),
    (8.55, 0.08), (8.60, 0.36), (8.65, 0.19), (8.70, 0.37), (8.75, 0.13), (8.80, 0.20), (9.05, 0.67),
    (9.10, 0.57), (9.30, 0.02), (9.38, 0.03),
]
oth_f_core = {
    6.22: [0.03, 0.09, 0.17], 6.27: [0.05, 0.12, 0.26], 6.32: [0.02, 0.07, 0.15], 6.37: [0.04, 0.10, 0.20],
    6.42: [0.02, 0.06, 0.13, 0.31], 6.47: [0.04, 0.09, 0.17], 6.52: [0.03, 0.11, 0.22],
    6.57: [0.05, 0.08, 0.14, 0.36], 6.62: [0.02, 0.07, 0.18], 6.67: [0.04, 0.10, 0.15, 0.27],
    6.72: [0.03, 0.06, 0.12, 0.21], 6.77: [0.05, 0.09, 0.16, 0.33], 6.82: [0.02, 0.07, 0.13, 0.19],
    6.87: [0.04, 0.10, 0.15, 0.24], 6.92: [0.03, 0.06, 0.11, 0.17, 0.38], 6.97: [0.05, 0.08, 0.14, 0.22],
    7.02: [0.02, 0.07, 0.12, 0.19, 0.29], 7.07: [0.04, 0.10, 0.16, 0.24], 7.12: [0.03, 0.06, 0.13, 0.20, 0.34],
    7.17: [0.05, 0.09, 0.15, 0.23], 7.22: [0.02, 0.07, 0.11, 0.17, 0.27], 7.27: [0.04, 0.08, 0.14, 0.21, 0.40],
    7.32: [0.03, 0.06, 0.12, 0.18, 0.25], 7.37: [0.05, 0.09, 0.15, 0.22, 0.31], 7.42: [0.02, 0.07, 0.13, 0.19],
    7.47: [0.04, 0.10, 0.16, 0.26, 0.36], 7.52: [0.03, 0.06, 0.12, 0.20], 7.57: [0.05, 0.08, 0.14, 0.23, 0.44],
    7.62: [0.02, 0.07, 0.11, 0.18, 0.28], 7.67: [0.04, 0.09, 0.15, 0.21], 7.72: [0.03, 0.06, 0.13, 0.19, 0.33],
    7.77: [0.05, 0.10, 0.17, 0.25], 7.82: [0.02, 0.07, 0.12, 0.20, 0.38], 7.87: [0.04, 0.08, 0.14, 0.22],
    7.92: [0.03, 0.06, 0.11, 0.18, 0.27], 7.97: [0.05, 0.09, 0.15, 0.34], 8.02: [0.02, 0.07, 0.13, 0.21],
    8.07: [0.04, 0.10, 0.16, 0.29], 8.12: [0.03, 0.06, 0.12, 0.48], 8.17: [0.05, 0.09, 0.19],
    8.22: [0.02, 0.08, 0.14, 0.26], 8.27: [0.04, 0.11, 0.36], 8.32: [0.03, 0.07, 0.17], 8.37: [0.05, 0.12, 0.23],
}

# fitted curves
food_m_fit_x = [4.2, 5.0, 6.0, 7.0, 7.5, 8.0, 8.5, 9.0, 9.6]
food_m_fit_y = [0.78, 0.75, 0.71, 0.70, 0.70, 0.72, 0.75, 0.77, 0.81]
cloth_m_fit_x = [4.2, 5.0, 6.0, 7.0, 8.0, 9.0, 9.6]
cloth_m_fit_y = [0.232, 0.205, 0.165, 0.130, 0.094, 0.055, 0.025]
util_m_fit_x = [4.2, 5.0, 6.0, 7.0, 8.0, 9.0, 9.6]
util_m_fit_y = [0.028, 0.038, 0.050, 0.060, 0.066, 0.068, 0.068]
oth_m_fit_x = [4.2, 5.0, 5.5, 6.0, 6.5, 7.0, 7.5, 8.0, 8.5, 9.0, 9.6]
oth_m_fit_y = [-0.03, 0.03, 0.065, 0.095, 0.115, 0.13, 0.14, 0.148, 0.145, 0.138, 0.12]
food_f_fit_x = [4.5, 4.8, 4.82, 5.9, 5.92, 9.4]
food_f_fit_y = [0.72, 0.72, 0.705, 0.70, 0.685, 0.68]
cloth_f_fit_x = [4.5, 5.0, 6.0, 7.0, 8.0, 9.0, 9.4]
cloth_f_fit_y = [0.175, 0.158, 0.121, 0.092, 0.068, 0.048, 0.041]
util_f_fit_x = [4.5, 4.85, 4.86, 6.0, 7.0, 8.0, 9.4]
util_f_fit_y = [0.065, 0.065, 0.072, 0.085, 0.092, 0.096, 0.096]
oth_f_fit_x = [4.5, 5.5, 6.5, 7.5, 8.5, 9.4]
oth_f_fit_y = [0.072, 0.10, 0.135, 0.165, 0.19, 0.205]

yticks_m = [[0, 0.2, 0.4, 0.6, 0.8, 1.0], [0, 0.2, 0.4, 0.6, 0.8], [0, 0.2, 0.4, 0.6, 0.8], [0, 0.2, 0.4, 0.6, 0.8]]
ylabs_m = [["0", ".2", ".4", ".6", ".8", "1"], ["0", ".2", ".4", ".6", ".8"],
           ["0", ".2", ".4", ".6", ".8"], ["0", ".2", ".4", ".6", ".8"]]
yticks_f = [[0, 0.2, 0.4, 0.6, 0.8, 1.0], [0, 0.05, 0.1, 0.15, 0.2, 0.25], [0, 0.2, 0.4, 0.6], [0, 0.2, 0.4, 0.6, 0.8]]
ylabs_f = [["0", ".2", ".4", ".6", ".8", "1"], ["0", ".05", ".1", ".15", ".2", ".25"],
           ["0", ".2", ".4", ".6"], ["0", ".2", ".4", ".6", ".8"]]
ylims_m = [(-0.195, 1.19), (-0.104, 0.896), (-0.096, 0.896), (-0.145, 0.925)]
ylims_f = [(-0.195, 1.19), (-0.032, 0.277), (-0.071, 0.671), (-0.11, 1.0)]

# ---------------------------------------------------------------- layout (pixels)
col_x = [(134, 610), (738, 1213)]
xlims = [(3.855, 10.145), (3.84, 10.16)]
row_y = [(99, 184), (279, 394), (489, 603), (697, 808)]
xlab_y = [230, 438, 648, 855]
ylab_x = [86, 690]
panel_x = [(54, 627), (658, 1230)]
panel_y = [(52, 259), (260, 468), (469, 678), (679, 887)]

TXT = "#1a1a1a"
GRID = "#e6e6e6"
DOT = "#a3a3a3"
AXC = "#404040"


def fx(px):
    return px / W


def fy(py):
    return 1 - py / H


def unpack(pts, core):
    xs = [p[0] for p in pts]
    ys = [p[1] for p in pts]
    for x, col in core.items():
        xs += [x] * len(col)
        ys += col
    return xs, ys


fig = plt.figure(figsize=(W / 100, H / 100), dpi=100)
fig.patch.set_facecolor("white")

# frames
fig.add_artist(plt.Line2D([0, 1], [fy(6), fy(6)], color="black", lw=1.6))
fig.add_artist(Rectangle((fx(19), fy(922)), fx(1300 - 19), (922 - 15) / H, fill=False,
                         ec="#e6eef0", lw=1.2))
for x0, x1 in [(39, 641), (644, 1243)]:
    fig.add_artist(Rectangle((fx(x0), fy(902)), fx(x1 - x0), (902 - 36) / H, fill=False,
                             ec="#e4edf0", lw=2.2))
for px0, px1 in panel_x:
    for py0, py1 in panel_y:
        fig.add_artist(Rectangle((fx(px0), fy(py1)), fx(px1 - px0), (py1 - py0) / H, fill=False,
                                 ec="#efefef", lw=1.0))

panels = [
    [(food_m, food_m_core, food_m_fit_x, food_m_fit_y), (cloth_m, cloth_m_core, cloth_m_fit_x, cloth_m_fit_y),
     (util_m, util_m_core, util_m_fit_x, util_m_fit_y), (oth_m, oth_m_core, oth_m_fit_x, oth_m_fit_y)],
    [(food_f, food_f_core, food_f_fit_x, food_f_fit_y), (cloth_f, cloth_f_core, cloth_f_fit_x, cloth_f_fit_y),
     (util_f, util_f_core, util_f_fit_x, util_f_fit_y), (oth_f, oth_f_core, oth_f_fit_x, oth_f_fit_y)],
]
yticks_all = [yticks_m, yticks_f]
ylabs_all = [ylabs_m, ylabs_f]
ylims_all = [ylims_m, ylims_f]

for c in range(2):
    x0, x1 = col_x[c]
    for r in range(4):
        y0, y1 = row_y[r]
        ax = fig.add_axes([fx(x0), fy(y1), fx(x1 - x0), (y1 - y0) / H])
        pts, core, fit_x, fit_y = panels[c][r]
        xs, ys = unpack(pts, core)
        ax.plot(fit_x, fit_y, color="black", lw=1.7, zorder=2)
        ax.scatter(xs, ys, s=5, color=DOT, linewidths=0, zorder=3)

        ax.set_xlim(*xlims[c])
        ax.set_ylim(*ylims_all[c][r])
        ax.set_xticks(xticks)
        ax.set_xticklabels([str(t) for t in xticks], fontsize=12, color=TXT)
        ax.set_yticks(yticks_all[c][r])
        ax.set_yticklabels(ylabs_all[c][r], fontsize=12, color=TXT, rotation=90, va="center")
        ax.tick_params(axis="both", length=5, width=1.0, color=AXC, pad=3)
        ax.grid(axis="y", color=GRID, lw=1.2)
        ax.set_axisbelow(True)
        for side in ["top", "right"]:
            ax.spines[side].set_visible(False)
        for side in ["left", "bottom"]:
            ax.spines[side].set_color(AXC)
            ax.spines[side].set_linewidth(1.0)
        ax.set_facecolor("none")

        xc = (x0 + x1) / 2
        fs = 15 if r == 3 else 12
        fig.text(fx(xc), fy(xlab_y[r]), xlabels[r], fontsize=fs, color=TXT, ha="center", va="center")
        fig.text(fx(ylab_x[c]), fy((y0 + y1) / 2), ylabels[r], fontsize=15, color=TXT,
                 rotation=90, ha="center", va="center")
        if r == 0:
            fig.text(fx(xc), fy(83), titles[c], fontsize=16, color=TXT, ha="center", va="center")

fig.savefig("out.png", dpi=100)
